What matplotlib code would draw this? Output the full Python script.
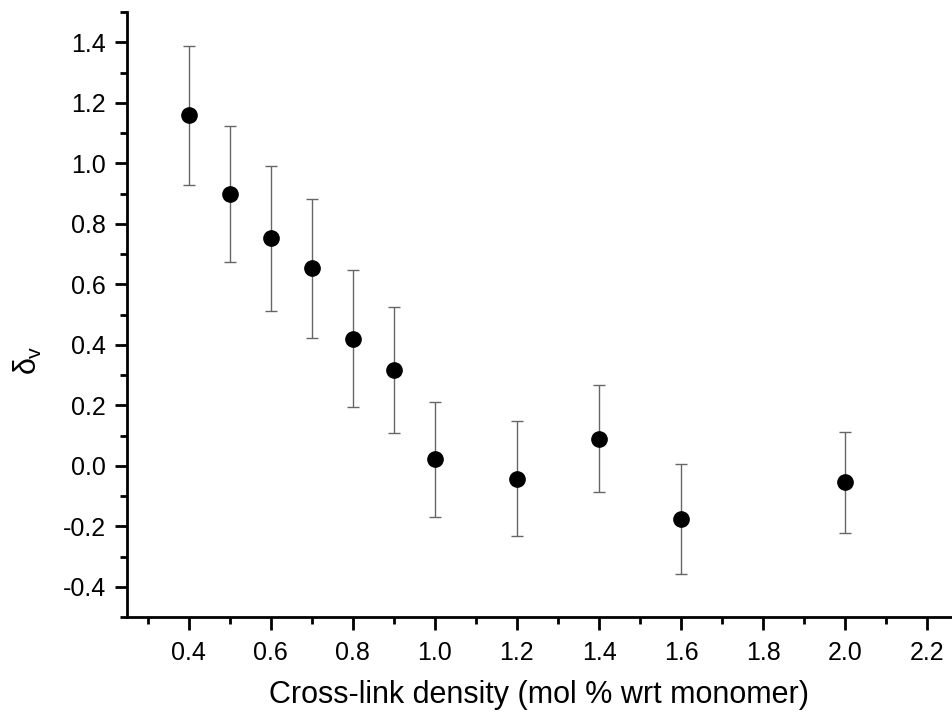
import matplotlib
matplotlib.use('Agg')
import matplotlib.pyplot as plt
from matplotlib.ticker import MultipleLocator

plt.rcParams['font.family'] = 'Liberation Sans'
plt.rcParams['mathtext.fontset'] = 'custom'
plt.rcParams['mathtext.rm'] = 'Liberation Sans'
plt.rcParams['mathtext.it'] = 'Liberation Sans'

# cross-link density vs delta_v with error bars
density = [0.4, 0.5, 0.6, 0.7, 0.8, 0.9, 1.0, 1.2, 1.4, 1.6, 2.0]
delta_v = [1.16, 0.90, 0.752, 0.654, 0.42, 0.317, 0.022, -0.042, 0.089, -0.175, -0.054]
err = [0.23, 0.225, 0.24, 0.23, 0.227, 0.207, 0.19, 0.19, 0.177, 0.182, 0.167]

fig = plt.figure(figsize=(9.52, 7.2), dpi=100)
ax = fig.add_axes([0.1334, 0.143, 0.8666, 0.84])

ax.errorbar(density, delta_v, yerr=err, fmt='o', color='black', ms=11,
            ecolor='#666666', elinewidth=1.0, capsize=4.5, capthick=1.0)

ax.set_xlim(0.25, 2.26)
ax.set_ylim(-0.5, 1.5)
ax.xaxis.set_major_locator(MultipleLocator(0.2))
ax.xaxis.set_minor_locator(MultipleLocator(0.1))
ax.yaxis.set_major_locator(MultipleLocator(0.2))
ax.yaxis.set_minor_locator(MultipleLocator(0.1))
ax.xaxis.set_major_formatter(matplotlib.ticker.FormatStrFormatter('%.1f'))
ax.yaxis.set_major_formatter(matplotlib.ticker.FormatStrFormatter('%.1f'))

for s in ['top', 'right']:
    ax.spines[s].set_visible(False)
for s in ['left', 'bottom']:
    ax.spines[s].set_linewidth(2)

ax.tick_params(which='major', direction='out', length=9, width=2, labelsize=18)
ax.tick_params(which='minor', direction='out', length=5, width=2)
ax.tick_params(axis='x', pad=8)
ax.tick_params(axis='y', pad=6)

ax.set_xlabel('Cross-link density (mol % wrt monomer)', fontsize=22, labelpad=11)
ax.set_ylabel(r'$\delta_\mathrm{v}$', fontsize=22)
ax.yaxis.set_label_coords(-0.1, 0.425)

fig.savefig('out.png', dpi=100)
